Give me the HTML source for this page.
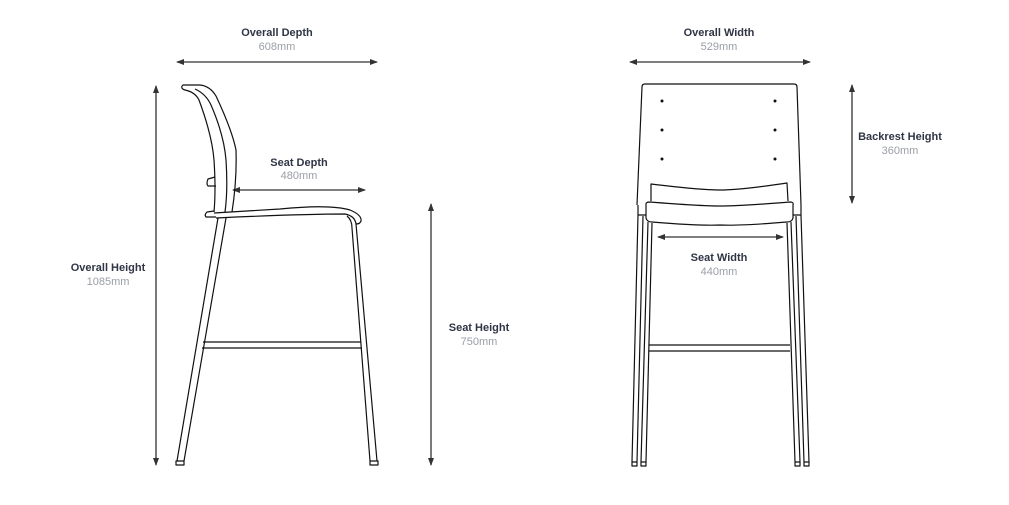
<!DOCTYPE html>
<html><head><meta charset="utf-8"><style>
html,body{margin:0;padding:0;background:#fff;}
svg{display:block;}
.l{font-family:"Liberation Sans",sans-serif;font-weight:bold;font-size:11px;fill:#2f3545;text-anchor:middle;}
.v{font-family:"Liberation Sans",sans-serif;font-size:11px;fill:#9a9ea6;text-anchor:middle;}
.c{fill:none;stroke:#111;stroke-width:1.2;stroke-linejoin:round;}
.d{stroke:#333;stroke-width:1.3;}
</style></head><body>
<svg width="1009" height="505" viewBox="0 0 1009 505" xmlns="http://www.w3.org/2000/svg">
<defs>
<marker id="a" markerWidth="8" markerHeight="6" refX="7" refY="3" orient="auto-start-reverse" markerUnits="userSpaceOnUse"><path d="M0,0 L8,3 L0,6 z" fill="#333"/></marker>
</defs>
<!-- dimension lines -->
<line class="d" x1="177" y1="62" x2="377" y2="62" marker-start="url(#a)" marker-end="url(#a)"/>
<line class="d" x1="156" y1="86" x2="156" y2="465" marker-start="url(#a)" marker-end="url(#a)"/>
<line class="d" x1="233" y1="190" x2="365" y2="190" marker-start="url(#a)" marker-end="url(#a)"/>
<line class="d" x1="431" y1="204" x2="431" y2="465" marker-start="url(#a)" marker-end="url(#a)"/>
<line class="d" x1="630" y1="62" x2="810" y2="62" marker-start="url(#a)" marker-end="url(#a)"/>
<line class="d" x1="852" y1="85" x2="852" y2="203" marker-start="url(#a)" marker-end="url(#a)"/>
<line class="d" x1="658" y1="237" x2="783" y2="237" marker-start="url(#a)" marker-end="url(#a)"/>
<!-- labels -->
<text class="l" x="277" y="36">Overall Depth</text><text class="v" x="277" y="50">608mm</text>
<text class="l" x="108" y="271">Overall Height</text><text class="v" x="108" y="285">1085mm</text>
<text class="l" x="299" y="166">Seat Depth</text><text class="v" x="299" y="179">480mm</text>
<text class="l" x="479" y="331">Seat Height</text><text class="v" x="479" y="345">750mm</text>
<text class="l" x="719" y="36">Overall Width</text><text class="v" x="719" y="50">529mm</text>
<text class="l" x="900" y="140">Backrest Height</text><text class="v" x="900" y="154">360mm</text>
<text class="l" x="719" y="261">Seat Width</text><text class="v" x="719" y="275">440mm</text>
<!-- side view -->
<path class="c" d="M182,86 L183,85 L200,85 Q210,86 216,96 Q232,130 236,150 Q237,180 232,212"/>
<path class="c" d="M182,86 Q181,89 185,90 Q195,92 199,100 Q212,135 214,160 Q216,190 214,212"/>
<path class="c" d="M195,89 Q206,94 211,105 Q224,135 226,160 Q228,190 225,212"/>
<path class="c" d="M215,177 L208,179 Q206,184 208,186 L216,186"/>
<path class="c" d="M214,211 L207,212 Q204,215 206,217 L216,217"/>
<path class="c" d="M214,213 L280,209 Q330,204 350,210 Q362,215 361,221 Q360,224 356,224 Q355,216 345,214 Q300,214 216,218"/>
<path class="c" d="M218,218 L177,461 M226,218 L184,461"/>
<rect class="c" x="176" y="461" width="8" height="4"/>
<path class="c" d="M347,216 Q352,220 352,228 L370,461 M356,224 L377,461"/>
<rect class="c" x="370" y="461" width="8" height="4"/>
<path class="c" d="M203,342 L361,342 M202,348 L362,348"/>
<!-- front view -->
<path class="c" d="M637,205 L642,87 Q642,84 645,84 L794,84 Q797,84 797,87 L801,205"/>
<g fill="#111"><circle cx="662" cy="101" r="1.5"/><circle cx="662" cy="130" r="1.5"/><circle cx="662" cy="159" r="1.5"/><circle cx="775" cy="101" r="1.5"/><circle cx="775" cy="130" r="1.5"/><circle cx="775" cy="159" r="1.5"/></g>
<path class="c" d="M651,201 L651,184 Q700,190 720,190 Q740,190 787,183 L788,201"/>
<path class="c" d="M646,204 Q646,202 650,202 Q700,206 720,206 Q740,206 790,202 Q794,202 793,205 L793,218 Q792,222 787,222 Q740,226 720,225 Q700,226 652,222 Q647,222 646,218 Z"/>
<path class="c" d="M638,205 L638,215 L646,215 M801,205 L801,215 L793,215"/>
<path class="c" d="M638,215 L632,462 M643,216 L637,462 M648,222 L641,462 M652,223 L646,462"/>
<rect class="c" x="632" y="462" width="5" height="4"/><rect class="c" x="641" y="462" width="5" height="4"/>
<path class="c" d="M801,215 L809,462 M796,216 L804,462 M791,222 L800,462 M787,223 L795,462"/>
<rect class="c" x="804" y="462" width="5" height="4"/><rect class="c" x="795" y="462" width="5" height="4"/>
<path class="c" d="M649,345 L790,345 M649,351 L790,351"/>
</svg>
</body></html>
